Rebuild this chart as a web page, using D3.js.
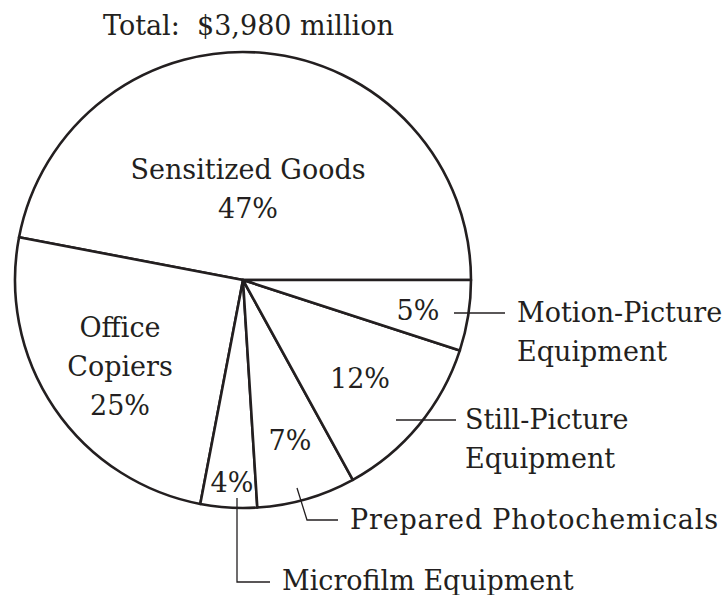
<!DOCTYPE html>
<html>
<head>
<meta charset="utf-8">
<script src="https://cdn.jsdelivr.net/npm/d3@7"></script>
<style>
  html, body { margin: 0; padding: 0; background: #fff; }
  text { font-family: "DejaVu Serif", serif; fill: #231f20; white-space: pre; }
</style>
</head>
<body>
<svg id="chart" width="725" height="595"></svg>
<script>
// ---- data ----
const categories = ["Sensitized Goods", "Office Copiers", "Microfilm Equipment",
  "Prepared Photochemicals", "Still-Picture Equipment", "Motion-Picture Equipment"];
const shares = [47, 25, 4, 7, 12, 5];
const pctLabels = ["47%", "25%", "4%", "7%", "12%", "5%"];
const title = "Total:  $3,980 million";

// ---- layout (positions only) ----
const W = 725, H = 595;
const cx = 243, cy = 280, R = 228;
const ink = "#231f20";
const fs = 27;

// inner label placement (relative to pie center), per slice
const innerLayout = [
  { lines: ["Sensitized Goods", "47%"], x: 5, y: -91 },
  { lines: ["Office", "Copiers", "25%"], x: -123, y: 87 },
  { lines: ["4%"], x: -11, y: 203 },
  { lines: ["7%"], x: 47, y: 161 },
  { lines: ["12%"], x: 117, y: 99 },
  { lines: ["5%"], x: 175, y: 31 }
];
// outer callouts: polyline points (absolute) and text anchor
const callouts = {
  2: { pts: [[237, 498], [237, 582], [270, 582]], tx: 282, ty: 590, lines: ["Microfilm Equipment"] },
  3: { pts: [[297, 488], [307, 520], [338, 520]], tx: 350, ty: 529, lines: ["Prepared Photochemicals"], len: 368 },
  4: { pts: [[396, 420], [456, 420]], tx: 465, ty: 429, lines: ["Still-Picture", "Equipment"] },
  5: { pts: [[454, 313], [505, 313]], tx: 517, ty: 322, lines: ["Motion-Picture", "Equipment"] }
};
const lineGap = 39;

const svg = d3.select("#chart");

svg.append("text")
  .attr("x", 103).attr("y", 35)
  .attr("font-size", fs)
  .attr("xml:space", "preserve")
  .text(title);

const pie = d3.pie().sort(null).value(d => d)
  .startAngle(Math.PI / 2).endAngle(Math.PI / 2 - 2 * Math.PI);
const arcs = pie(shares);
const arc = d3.arc().innerRadius(0).outerRadius(R);

const g = svg.append("g").attr("transform", `translate(${cx},${cy})`);

g.selectAll("path.slice")
  .data(arcs)
  .join("path")
  .attr("class", "slice")
  .attr("d", arc)
  .attr("fill", "#fff")
  .attr("stroke", ink)
  .attr("stroke-width", 2.6)
  .attr("stroke-linejoin", "round");

// inner labels
arcs.forEach((a, i) => {
  const L = innerLayout[i];
  const n = L.lines.length;
  const t = g.append("text")
    .attr("text-anchor", "middle")
    .attr("font-size", fs);
  L.lines.forEach((ln, k) => {
    t.append("tspan")
      .attr("x", L.x)
      .attr("y", L.y + (k - (n - 1) / 2) * lineGap + 9)
      .text(ln);
  });
});

// callouts
const lineGen = d3.line();
Object.keys(callouts).forEach(k => {
  const c = callouts[k];
  svg.append("path")
    .attr("d", lineGen(c.pts))
    .attr("fill", "none")
    .attr("stroke", ink)
    .attr("stroke-width", 1.3);
  const t = svg.append("text").attr("font-size", fs);
  c.lines.forEach((ln, j) => {
    const ts = t.append("tspan").attr("x", c.tx).attr("y", c.ty + j * lineGap).text(ln);
    if (c.len) ts.attr("textLength", c.len).attr("lengthAdjust", "spacing");
  });
});
</script>
</body>
</html>
